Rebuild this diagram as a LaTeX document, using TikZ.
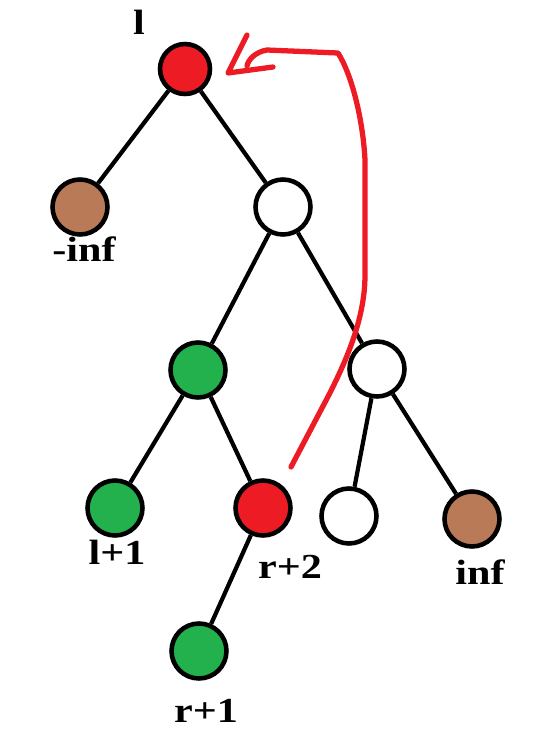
\documentclass[tikz,border=0pt]{standalone}
\usepackage{fontspec}
\setmainfont{Liberation Serif}
\newfontfamily\lblfont[FakeStretch=1.2]{Liberation Serif}
\usetikzlibrary{positioning}
\definecolor{paintred}{HTML}{ED1C24}
\definecolor{paintgreen}{HTML}{22B14C}
\definecolor{paintbrown}{HTML}{B97A57}

\begin{document}
\begin{tikzpicture}[
    x=0.02cm, y=-0.02cm,
    vertex/.style={circle, draw=black, line width=2.6pt, inner sep=0pt, minimum size=1.1cm},
    redvertex/.style={vertex, fill=paintred},
    greenvertex/.style={vertex, fill=paintgreen},
    brownvertex/.style={vertex, fill=paintbrown},
    whitevertex/.style={vertex, fill=white},
    edge/.style={black, line width=2.4pt},
    lbl/.style={font=\lblfont\bfseries\fontsize{20}{24}\selectfont, inner sep=0pt},
    hand/.style={paintred, line width=3pt, line cap=round, line join=round}
]
\useasboundingbox (0,0) rectangle (552,738);

% ==================== NODES ====================
\node[redvertex, minimum size=1.0cm] (root) at (185,69) {};
\node[brownvertex] (neginf) at (80,207) {};
\node[whitevertex] (right) at (283,207) {};
\node[greenvertex] (mid) at (198,370) {};
\node[whitevertex] (right2) at (377,369) {};
\node[greenvertex] (lplus) at (115,508) {};
\node[redvertex] (rtwo) at (263,508) {};
\node[whitevertex] (right3) at (349,516) {};
\node[brownvertex] (posinf) at (472,519) {};
\node[greenvertex] (rone) at (199,651) {};

% ==================== LABELS ====================
\node[lbl] (lbl_root) at (139,22) {l};
\node[lbl] (lbl_neginf) at (84,249) {-inf};
\node[lbl] (lbl_lplus) at (117,552) {l+1};
\node[lbl] (lbl_rtwo) at (290,567) {r+2};
\node[lbl] (lbl_posinf) at (480,572) {inf};
\node[lbl] (lbl_rone) at (206,711) {r+1};

% ==================== EDGES ====================
\draw[edge] (root) -- (neginf);
\draw[edge] (root) -- (right);
\draw[edge] (right) -- (mid);
\draw[edge] (right) -- (right2);
\draw[edge] (mid) -- (lplus);
\draw[edge] (mid) -- (rtwo);
\draw[edge] (right2) -- (right3);
\draw[edge] (right2) -- (posinf);
\draw[edge] (rtwo) -- (rone);

% ==================== RED ARROW ====================
\coordinate (curvestart) at (291,467);
\coordinate (curvetip) at (228,73);
\draw[hand] (curvestart) -- (322,408) .. controls (345,365) and (365,320) .. (365,275)
    -- (365,160) .. controls (363,120) and (352,75) .. (338,53) -- (267,50)
    .. controls (255,52) and (248,60) .. (247,66);
\draw[hand] (247,35) -- (curvetip) -- (273,67);

\end{tikzpicture}
\end{document}
